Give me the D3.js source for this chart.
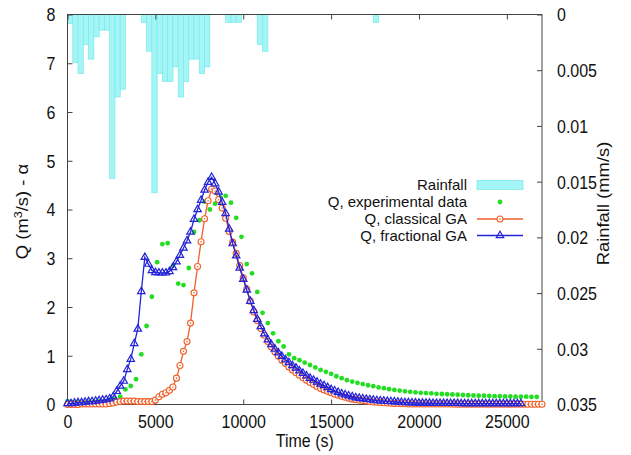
<!DOCTYPE html>
<html>
<head>
<meta charset="utf-8">
<script src="https://cdn.jsdelivr.net/npm/d3@7"></script>
<style>
body { margin: 0; background: #fff; }
svg { font-family: "Liberation Sans", Arial, sans-serif; }
</style>
</head>
<body>
<svg width="631" height="455"></svg>
<script>
// rainfall (mm/s), one value per 300 s interval starting at t = 0
const RAIN_DT = 300;
const rainfall = [
    0.0008, 0.0043, 0.0053, 0.0027, 0.0040, 0.0020, 0.0014, 0.0014, 0.0147, 0.0074,
    0.0067, 0, 0, 0, 0.0007, 0.0033, 0.0160, 0.0053, 0.0060, 0.0060,
    0.0047, 0.0074, 0.0060, 0.0040, 0.0040, 0.0053, 0.0047, 0, 0, 0,
    0.0007, 0.0007, 0.0007, 0, 0, 0, 0.0027, 0.0033, 0, 0,
    0, 0, 0, 0, 0, 0, 0, 0, 0, 0,
    0, 0, 0, 0, 0, 0, 0, 0, 0.0007
];

// experimental discharge (m3/s), every 300 s
const EXP_DT = 300;
const qExp = [
    0.07, 0.05, 0.05, 0.05, 0.06, 0.06, 0.07, 0.07, 0.09, 0.12,
    0.16, 0.31, 0.38, 0.52, 1.03, 1.61, 2.21, 2.92, 3.29, 3.31,
    2.85, 2.48, 2.45, 2.80, 3.54, 3.78, 4.16, 4.00, 4.12, 4.25,
    4.28, 4.14, 3.83, 3.44, 2.88, 2.69, 2.31, 1.88, 1.67, 1.46,
    1.30, 1.19, 1.03, 0.95, 0.91, 0.86, 0.81, 0.76, 0.71, 0.67,
    0.63, 0.58, 0.54, 0.50, 0.47, 0.445, 0.42, 0.395, 0.375, 0.35,
    0.335, 0.315, 0.30, 0.285, 0.27, 0.26, 0.25, 0.24, 0.235, 0.23,
    0.22, 0.215, 0.21, 0.205, 0.20, 0.195, 0.19, 0.185, 0.18, 0.18,
    0.175, 0.17, 0.17, 0.165, 0.165, 0.16, 0.16, 0.16, 0.155, 0.155
];

// model output, every 200 s
const MODEL_DT = 200;
const qClassical = [
    0.0, 0.0, 0.0, 0.0, 0.01, 0.01, 0.01, 0.01, 0.01, 0.01,
    0.01, 0.01, 0.02, 0.03, 0.05, 0.06, 0.07, 0.07, 0.07, 0.07,
    0.06, 0.06, 0.06, 0.06, 0.06, 0.09, 0.16, 0.21, 0.24, 0.29,
    0.36, 0.54, 0.80, 1.09, 1.29, 1.67, 2.29, 2.83, 3.34, 3.81,
    4.18, 4.42, 4.38, 4.20, 4.03, 3.82, 3.55, 3.33, 3.10, 2.85,
    2.60, 2.37, 2.12, 1.90, 1.72, 1.56, 1.42, 1.29, 1.18, 1.08,
    0.99, 0.91, 0.84, 0.77, 0.71, 0.65, 0.60, 0.55, 0.50, 0.45,
    0.41, 0.37, 0.33, 0.30, 0.27, 0.24, 0.21, 0.19, 0.17, 0.15,
    0.13, 0.11, 0.10, 0.09, 0.08, 0.07, 0.06, 0.05, 0.045, 0.04,
    0.035, 0.03, 0.025, 0.02, 0.02, 0.015, 0.015, 0.01, 0.01, 0.01,
    0.01, 0.01, 0.01, 0.01, 0.01, 0.01, 0.01, 0.01, 0.01, 0.01,
    0.005, 0.005, 0.005, 0.005, 0.005, 0.005, 0.005, 0.005, 0.005, 0.005,
    0.005, 0.005, 0.005, 0.005, 0.005, 0.005, 0.005, 0.005, 0.005, 0.005,
    0.005, 0.005, 0.005, 0.005, 0.005, 0.005
];
const qFractional = [
    0.02, 0.02, 0.03, 0.04, 0.04, 0.05, 0.06, 0.06, 0.07, 0.08,
    0.09, 0.10, 0.12, 0.16, 0.27, 0.38, 0.48, 0.72, 0.93, 1.25,
    1.55, 2.32, 3.02, 2.88, 2.75, 2.71, 2.70, 2.70, 2.70, 2.73,
    2.81, 2.93, 3.06, 3.21, 3.36, 3.54, 3.80, 4.00, 4.19, 4.40,
    4.56, 4.66, 4.53, 4.36, 4.15, 3.92, 3.60, 3.30, 3.05, 2.80,
    2.57, 2.35, 2.12, 1.93, 1.75, 1.60, 1.45, 1.33, 1.23, 1.14,
    1.06, 0.99, 0.92, 0.86, 0.80, 0.75, 0.69, 0.64, 0.59, 0.54,
    0.50, 0.46, 0.42, 0.39, 0.35, 0.31, 0.28, 0.25, 0.22, 0.20,
    0.18, 0.16, 0.14, 0.13, 0.12, 0.11, 0.10, 0.09, 0.08, 0.075,
    0.07, 0.065, 0.06, 0.055, 0.05, 0.045, 0.04, 0.04, 0.035, 0.035,
    0.03, 0.03, 0.03, 0.03, 0.025, 0.025, 0.025, 0.025, 0.025, 0.025,
    0.025, 0.025, 0.02, 0.02, 0.02, 0.02, 0.02, 0.02, 0.02, 0.02,
    0.02, 0.02, 0.02, 0.02, 0.02, 0.02, 0.02, 0.02, 0.02, 0.02
];

const xTicks = [0, 5000, 10000, 15000, 20000, 25000];
const yTicks = [0, 1, 2, 3, 4, 5, 6, 7, 8];
const y2Ticks = [0, 0.005, 0.01, 0.015, 0.02, 0.025, 0.03, 0.035];
const legendLabels = ["Rainfall", "Q, experimental data", "Q, classical GA", "Q, fractional GA"];

const COL_RAIN = "#a4f6f6", COL_RAIN_EDGE = "#7feaea";
const COL_EXP = "#22dd22", COL_CLASS = "#f0602a", COL_FRAC = "#2323d8";
const TXT = "#111";
const STRETCH = 1.15; // the source figure's lettering is a bit taller than wide

const mLeft = 67.5, mRight = 542, mTop = 14.5, mBottom = 404.5;
const svg = d3.select("svg");

const x = d3.scaleLinear().domain([0, 27000]).range([mLeft, mRight]);
const y = d3.scaleLinear().domain([0, 8]).range([mBottom, mTop]);
const y2 = d3.scaleLinear().domain([0, 0.035]).range([mTop, mBottom]);

const toPts = (arr, dt) => arr.map((q, i) => ({t: i * dt, q}));
const expPts = toPts(qExp, EXP_DT);
const classPts = toPts(qClassical, MODEL_DT);
const fracPts = toPts(qFractional, MODEL_DT);

// rainfall bars hanging from the top
svg.append("g")
    .selectAll("rect")
    .data(rainfall.map((r, i) => ({t: i * RAIN_DT, r})).filter(d => d.r > 0))
    .enter().append("rect")
        .attr("x", d => x(d.t))
        .attr("width", d => x(d.t + RAIN_DT) - x(d.t))
        .attr("y", y2(0))
        .attr("height", d => y2(d.r) - y2(0))
        .attr("fill", COL_RAIN)
        .attr("stroke", COL_RAIN_EDGE)
        .attr("stroke-width", 0.8);

// axes (ticks point inward, gnuplot style)
const fmt2 = d => String(+d.toFixed(3));
const axisStyle = g => {
    g.select(".domain").remove();
    g.selectAll(".tick line").attr("stroke", "#444");
    g.selectAll(".tick text").attr("fill", TXT).style("font-size", "16px");
};
const stretchSide = g => g.selectAll(".tick text")
    .attr("dy", "0.35em")
    .attr("transform", `scale(1,${STRETCH})`);

svg.append("g").attr("transform", `translate(${mLeft},0)`)
    .call(d3.axisLeft(y).tickValues(yTicks).tickSize(-5).tickPadding(12))
    .call(axisStyle).call(stretchSide);
svg.append("g").attr("transform", `translate(${mRight},0)`)
    .call(d3.axisRight(y2).tickValues(y2Ticks).tickFormat(fmt2).tickSize(-5).tickPadding(15))
    .call(axisStyle).call(stretchSide);
svg.append("g").attr("transform", `translate(0,${mBottom})`)
    .call(d3.axisBottom(x).tickValues(xTicks).tickFormat(d3.format("d")).tickSize(-5))
    .call(axisStyle)
    .call(g => g.selectAll(".tick text")
        .attr("y", 0).attr("dy", "0.35em")
        .attr("transform", `translate(0,17) scale(1,${STRETCH})`));
svg.append("g").attr("transform", `translate(0,${mTop})`)
    .call(d3.axisTop(x).tickValues(xTicks).tickFormat("").tickSize(-5))
    .call(axisStyle);

svg.append("rect")
    .attr("x", mLeft).attr("y", mTop)
    .attr("width", mRight - mLeft).attr("height", mBottom - mTop)
    .attr("fill", "none").attr("stroke", "#444").attr("stroke-width", 1);

// axis titles
const yl = svg.append("text")
    .attr("transform", `translate(28,${(mTop + mBottom) / 2 + 2}) rotate(-90) scale(${STRETCH},1)`)
    .attr("text-anchor", "middle")
    .style("font-size", "16px").attr("fill", TXT);
yl.append("tspan").text("Q (m");
yl.append("tspan").text("3").attr("font-size", "11px").attr("dy", "-6");
yl.append("tspan").text("/s) - α").attr("dy", "6");

svg.append("text")
    .attr("transform", `translate(609,${(mTop + mBottom) / 2 - 6}) rotate(-90) scale(${STRETCH},1)`)
    .attr("text-anchor", "middle")
    .style("font-size", "16px").attr("fill", TXT)
    .text("Rainfall (mm/s)");

svg.append("text")
    .attr("transform", `translate(${(mLeft + mRight) / 2},441) scale(1,${STRETCH})`)
    .attr("dy", "0.35em")
    .attr("text-anchor", "middle")
    .style("font-size", "16px").attr("fill", TXT)
    .text("Time (s)");

// series
const line = d3.line().x(d => x(d.t)).y(d => y(d.q));
const triangle = d3.symbol(d3.symbolTriangle, 24);

svg.append("g")
    .selectAll("circle")
    .data(expPts)
    .enter().append("circle")
        .attr("cx", d => x(d.t)).attr("cy", d => y(d.q))
        .attr("r", 2.4).attr("fill", COL_EXP);

svg.append("path").datum(classPts)
    .attr("d", line).attr("fill", "none")
    .attr("stroke", COL_CLASS).attr("stroke-width", 1.3);
const cg = svg.append("g").selectAll("g").data(classPts).enter().append("g")
    .attr("transform", d => `translate(${x(d.t)},${y(d.q)})`);
cg.append("circle").attr("r", 3).attr("fill", "#fff")
    .attr("stroke", COL_CLASS).attr("stroke-width", 1.1);
cg.append("circle").attr("r", 0.8).attr("fill", COL_CLASS);

svg.append("path").datum(fracPts)
    .attr("d", line).attr("fill", "none")
    .attr("stroke", COL_FRAC).attr("stroke-width", 1.3);
svg.append("g").selectAll("path").data(fracPts).enter().append("path")
    .attr("d", triangle)
    .attr("transform", d => `translate(${x(d.t)},${y(d.q)})`)
    .attr("fill", "none").attr("stroke", COL_FRAC).attr("stroke-width", 1.2);

// legend
const legRowY = [185, 202, 219, 235.5];
const lg = svg.append("g");
lg.selectAll("text").data(legendLabels).enter().append("text")
    .attr("x", 467).attr("y", (d, i) => legRowY[i])
    .attr("dy", "0.35em")
    .attr("text-anchor", "end")
    .style("font-size", "15px").attr("fill", TXT)
    .text(d => d);
lg.append("rect").attr("x", 477).attr("y", legRowY[0] - 4.5)
    .attr("width", 46).attr("height", 9)
    .attr("fill", COL_RAIN).attr("stroke", COL_RAIN_EDGE).attr("stroke-width", 0.8);
lg.append("circle").attr("cx", 500).attr("cy", legRowY[1]).attr("r", 2.4).attr("fill", COL_EXP);
lg.append("line").attr("x1", 477).attr("x2", 523).attr("y1", legRowY[2]).attr("y2", legRowY[2])
    .attr("stroke", COL_CLASS).attr("stroke-width", 1.3);
lg.append("circle").attr("cx", 500).attr("cy", legRowY[2]).attr("r", 3)
    .attr("fill", "#fff").attr("stroke", COL_CLASS).attr("stroke-width", 1.1);
lg.append("circle").attr("cx", 500).attr("cy", legRowY[2]).attr("r", 0.8).attr("fill", COL_CLASS);
lg.append("line").attr("x1", 477).attr("x2", 523).attr("y1", legRowY[3]).attr("y2", legRowY[3])
    .attr("stroke", COL_FRAC).attr("stroke-width", 1.3);
lg.append("path").attr("d", triangle)
    .attr("transform", `translate(500,${legRowY[3]})`)
    .attr("fill", "none").attr("stroke", COL_FRAC).attr("stroke-width", 1.2);
</script>
</body>
</html>
